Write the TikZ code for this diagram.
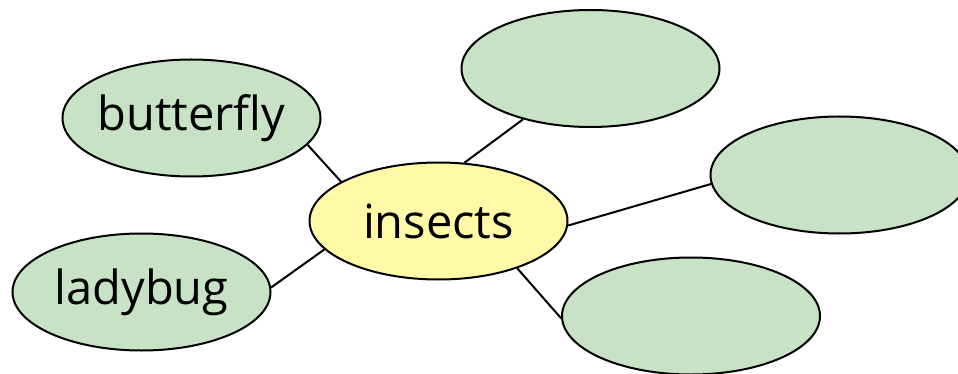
\documentclass[tikz,border=0pt]{standalone}
\usepackage{fontspec}
\setmainfont{Open Sans}
\usetikzlibrary{shapes.geometric}
\definecolor{leafgreen}{RGB}{200,226,198}
\definecolor{paleyellow}{RGB}{255,249,168}
\tikzset{
  bubble/.style={ellipse, draw=black, line width=2pt, minimum width=258pt, minimum height=117pt, inner ysep=0pt, inner xsep=-12pt, text width=196pt, align=center, font=\fontsize{47}{52}\selectfont},
  leaf/.style={bubble, fill=leafgreen},
  hub/.style={bubble, fill=paleyellow},
  link/.style={draw=black, line width=2pt}
}
\begin{document}
\begin{tikzpicture}[x=1pt,y=-1pt]
\useasboundingbox (0,0) rectangle (958,374);
\node[leaf] (butterfly) at (191.5,118) {butterfly};
\node[leaf] (ladybug) at (141.5,292) {ladybug};
\node[hub] (insects) at (438.5,221) {insects};
\node[leaf] (topright) at (590.5,68.5) {};
\node[leaf] (right) at (839.5,175) {};
\node[leaf] (bottomright) at (691,316) {};
\draw[link] (butterfly.-13) -- (insects.158.5);
\draw[link] (ladybug.2) -- (insects.-166.5);
\draw[link] (insects.66) -- (topright.-143);
\draw[link] (insects.-2) -- (right.-176.5);
\draw[link] (insects.-31.5) -- (bottomright.-179.5);
\end{tikzpicture}
\end{document}
